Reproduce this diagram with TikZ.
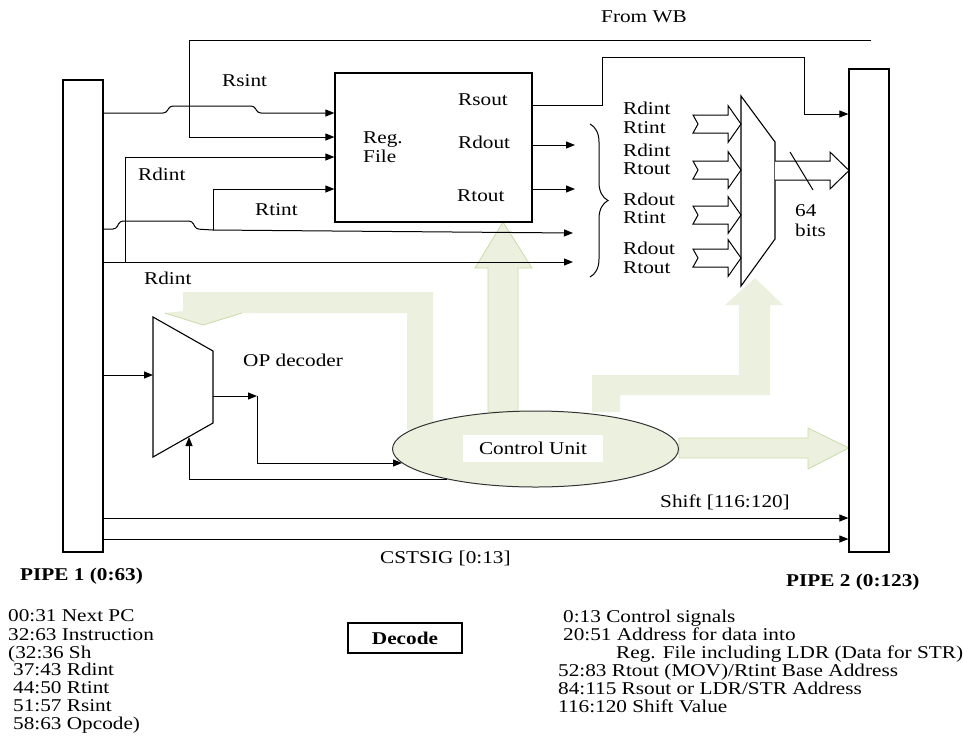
\documentclass[tikz,border=0pt]{standalone}
\usepackage{fontspec}
\setmainfont{Liberation Serif}[FakeStretch=1.18]
\usetikzlibrary{arrows.meta,decorations.pathreplacing,shapes.geometric}
\definecolor{gfill}{HTML}{EBF1DE}
\definecolor{gline}{HTML}{C9DBA8}
\begin{document}
\begin{tikzpicture}[x=1pt,y=-1pt,
  font=\fontsize{18}{18}\selectfont,
  box/.style={draw=black,line width=1.2pt,fill=white,inner sep=0pt},
  lab/.style={inner sep=0pt,text height=12pt,text depth=0pt,anchor=west},
  wire/.style={draw=black,line width=1pt},
  arr/.style={wire,-{Triangle[length=9pt,width=7pt]}},
  gbody/.style={fill=gfill,draw=gline,line width=0.8pt},
  hollow/.style={draw=black,line width=1pt,fill=white,line join=miter}]
\useasboundingbox (0,0) rectangle (963,737);

% ---------- green (control) arrows ----------
\path[gbody] (488,412) -- (488,268) -- (475,268) -- (503,222) -- (532,268) -- (518,268) -- (518,412) -- cycle;
\path[fill=gfill] (407,430) -- (407,313) -- (242,313) -- (203,325) -- (165,313) -- (183,311) -- (183,292) -- (433,292) -- (433,430) -- cycle;
\draw[gline,line width=0.8pt] (242,313) -- (203,325) -- (165,313);
\path[fill=gfill] (592,412) -- (592,375) -- (739,375) -- (739,305) -- (725,305) -- (755,278) -- (783,305) -- (770,305) -- (770,395) -- (620,395) -- (620,412) -- cycle;
\path[gbody] (679,438) -- (808,438) -- (808,428) -- (849,448) -- (808,469) -- (808,458) -- (679,458) -- cycle;

% ---------- blocks ----------
\node[box,minimum width=40pt,minimum height=472pt] (pipe1) at (83,316) {};
\node[box,minimum width=40pt,minimum height=483pt] (pipe2) at (869,310.5) {};
\node[box,minimum width=197pt,minimum height=149pt] (regfile) at (433.5,147.5) {};
\node[ellipse,draw=black!80,line width=1pt,fill=gfill,minimum width=286pt,minimum height=76pt,inner sep=0pt] (cu) at (535.5,449) {};
\node[fill=white,minimum width=140pt,minimum height=27pt,inner sep=0pt] (cutext) at (533,448.5) {Control Unit};
\draw[line width=1.1pt,fill=white] (153,317) -- (213,351) -- (213,423) -- (153,457) -- cycle;
\coordinate (opdec) at (183,387);
\draw[line width=1.1pt,fill=white] (741,96) -- (775,142) -- (775,239) -- (741,286) -- cycle;
\coordinate (mux) at (758,191);

% ---------- hollow bus arrows ----------
\foreach \yc/\nm in {124/h1,170/h2,215/h3,258/h4}{
  \draw[hollow] (693,\yc-9) -- (728,\yc-9) -- (728,\yc-18.5) -- (741,\yc) -- (728,\yc+18.5) -- (728,\yc+9) -- (693,\yc+9) -- (698,\yc) -- cycle;
  \coordinate (\nm) at (741,\yc);
}
\draw[hollow] (775,161) -- (830,161) -- (830,152) -- (849,170.5) -- (830,189) -- (830,180) -- (775,180);
\draw[line width=1pt] (790,152) -- (813,190);

% ---------- coordinates ----------
\coordinate (wb) at (871,40);
\coordinate (ra) at (573,233);
\coordinate (rb) at (573,262);
\coordinate (rc) at (575,145);
\coordinate (rd) at (575,189);

% ---------- wires ----------
\draw[arr] (wb) -- (189,40) -- (189,137) -- (regfile.west |- 0,137);
\draw[arr,rounded corners=3pt] (pipe1.east |- 0,113) -- (166,113) -- (170,106) -- (254,106) -- (258,113) -- (regfile.west |- 0,113);
\draw[arr] (125,262) -- (125,157) -- (regfile.west |- 0,157);
\draw[arr] (213,230) -- (213,189) -- (regfile.west |- 0,189);
\draw[wire,rounded corners=3pt] (pipe1.east |- 0,229) -- (116,229) -- (120,221) -- (192,221) -- (196,229) -- (213,230);
\draw[arr] (213,230) -- (ra);
\draw[arr] (pipe1.east |- 0,262) -- (rb);
\draw[arr] (regfile.east |- 0,145) -- (rc);
\draw[arr] (regfile.east |- 0,189) -- (rd);
\draw[arr] (regfile.east |- 0,105) -- (602,105) -- (602,57) -- (804,57) -- (804,114) -- (pipe2.west |- 0,114);
\draw[arr] (pipe1.east |- 0,375) -- (153,375);
\draw[arr] (213,396) -- (257,396);
\draw[arr] (257,396) -- (257,463) -- (402,463);
\draw[arr] (447,479) -- (189,479) -- (189,437);
\draw[arr] (pipe1.east |- 0,518) -- (pipe2.west |- 0,518);
\draw[arr] (pipe1.east |- 0,539) -- (pipe2.west |- 0,539);
\draw[line width=1pt,decorate,decoration={brace,amplitude=18pt,aspect=0.5}] (590,124) -- (590,277);

% ---------- labels ----------
\node[lab] at (601,16) {From WB};
\node[lab] at (222,80) {Rsint};
\node[lab] at (363,137) {Reg.};
\node[lab] at (363,156) {File};
\node[lab] at (458,99) {Rsout};
\node[lab] at (458,142) {Rdout};
\node[lab] at (457,195) {Rtout};
\node[lab] at (138,174) {Rdint};
\node[lab] at (255,209) {Rtint};
\node[lab] at (144,278) {Rdint};
\node[lab] at (623,108) {Rdint};
\node[lab] at (623,127) {Rtint};
\node[lab] at (623,150) {Rdint};
\node[lab] at (623,168) {Rtout};
\node[lab] at (623,199) {Rdout};
\node[lab] at (623,217) {Rtint};
\node[lab] at (623,248) {Rdout};
\node[lab] at (623,267) {Rtout};
\node[lab] at (795,210) {64};
\node[lab] at (795,230) {bits};
\node[lab] at (243,360) {OP decoder};
\node[lab] at (660,501) {Shift [116:120]};
\node[lab] at (380,557) {CSTSIG [0:13]};
\node[lab,font=\fontsize{18}{18}\selectfont\bfseries] at (20,574) {PIPE 1 (0:63)};
\node[lab,font=\fontsize{18}{18}\selectfont\bfseries] at (786,580) {PIPE 2 (0:123)};

\node[lab] at (8,615) {00:31 Next PC};
\node[lab] at (8,634) {32:63 Instruction};
\node[lab] at (8,652) {(32:36 Sh};
\node[lab] at (13,669) {37:43 Rdint};
\node[lab] at (13,687) {44:50 Rtint};
\node[lab] at (13,705) {51:57 Rsint};
\node[lab] at (13,723) {58:63 Opcode)};

\node[draw=black,line width=1.2pt,minimum width=114pt,minimum height=30pt,inner sep=0pt,font=\fontsize{18}{18}\selectfont\bfseries] (decode) at (405,638) {Decode};

\node[lab] at (563,616) {0:13 Control signals};
\node[lab] at (563,634) {20:51 Address for data into};
\node[lab] at (616,652) {Reg. File including LDR (Data for STR)};
\node[lab] at (558,670) {52:83 Rtout (MOV)/Rtint Base Address};
\node[lab] at (558,688) {84:115 Rsout or LDR/STR Address};
\node[lab] at (558,706) {116:120 Shift Value};
\end{tikzpicture}
\end{document}
